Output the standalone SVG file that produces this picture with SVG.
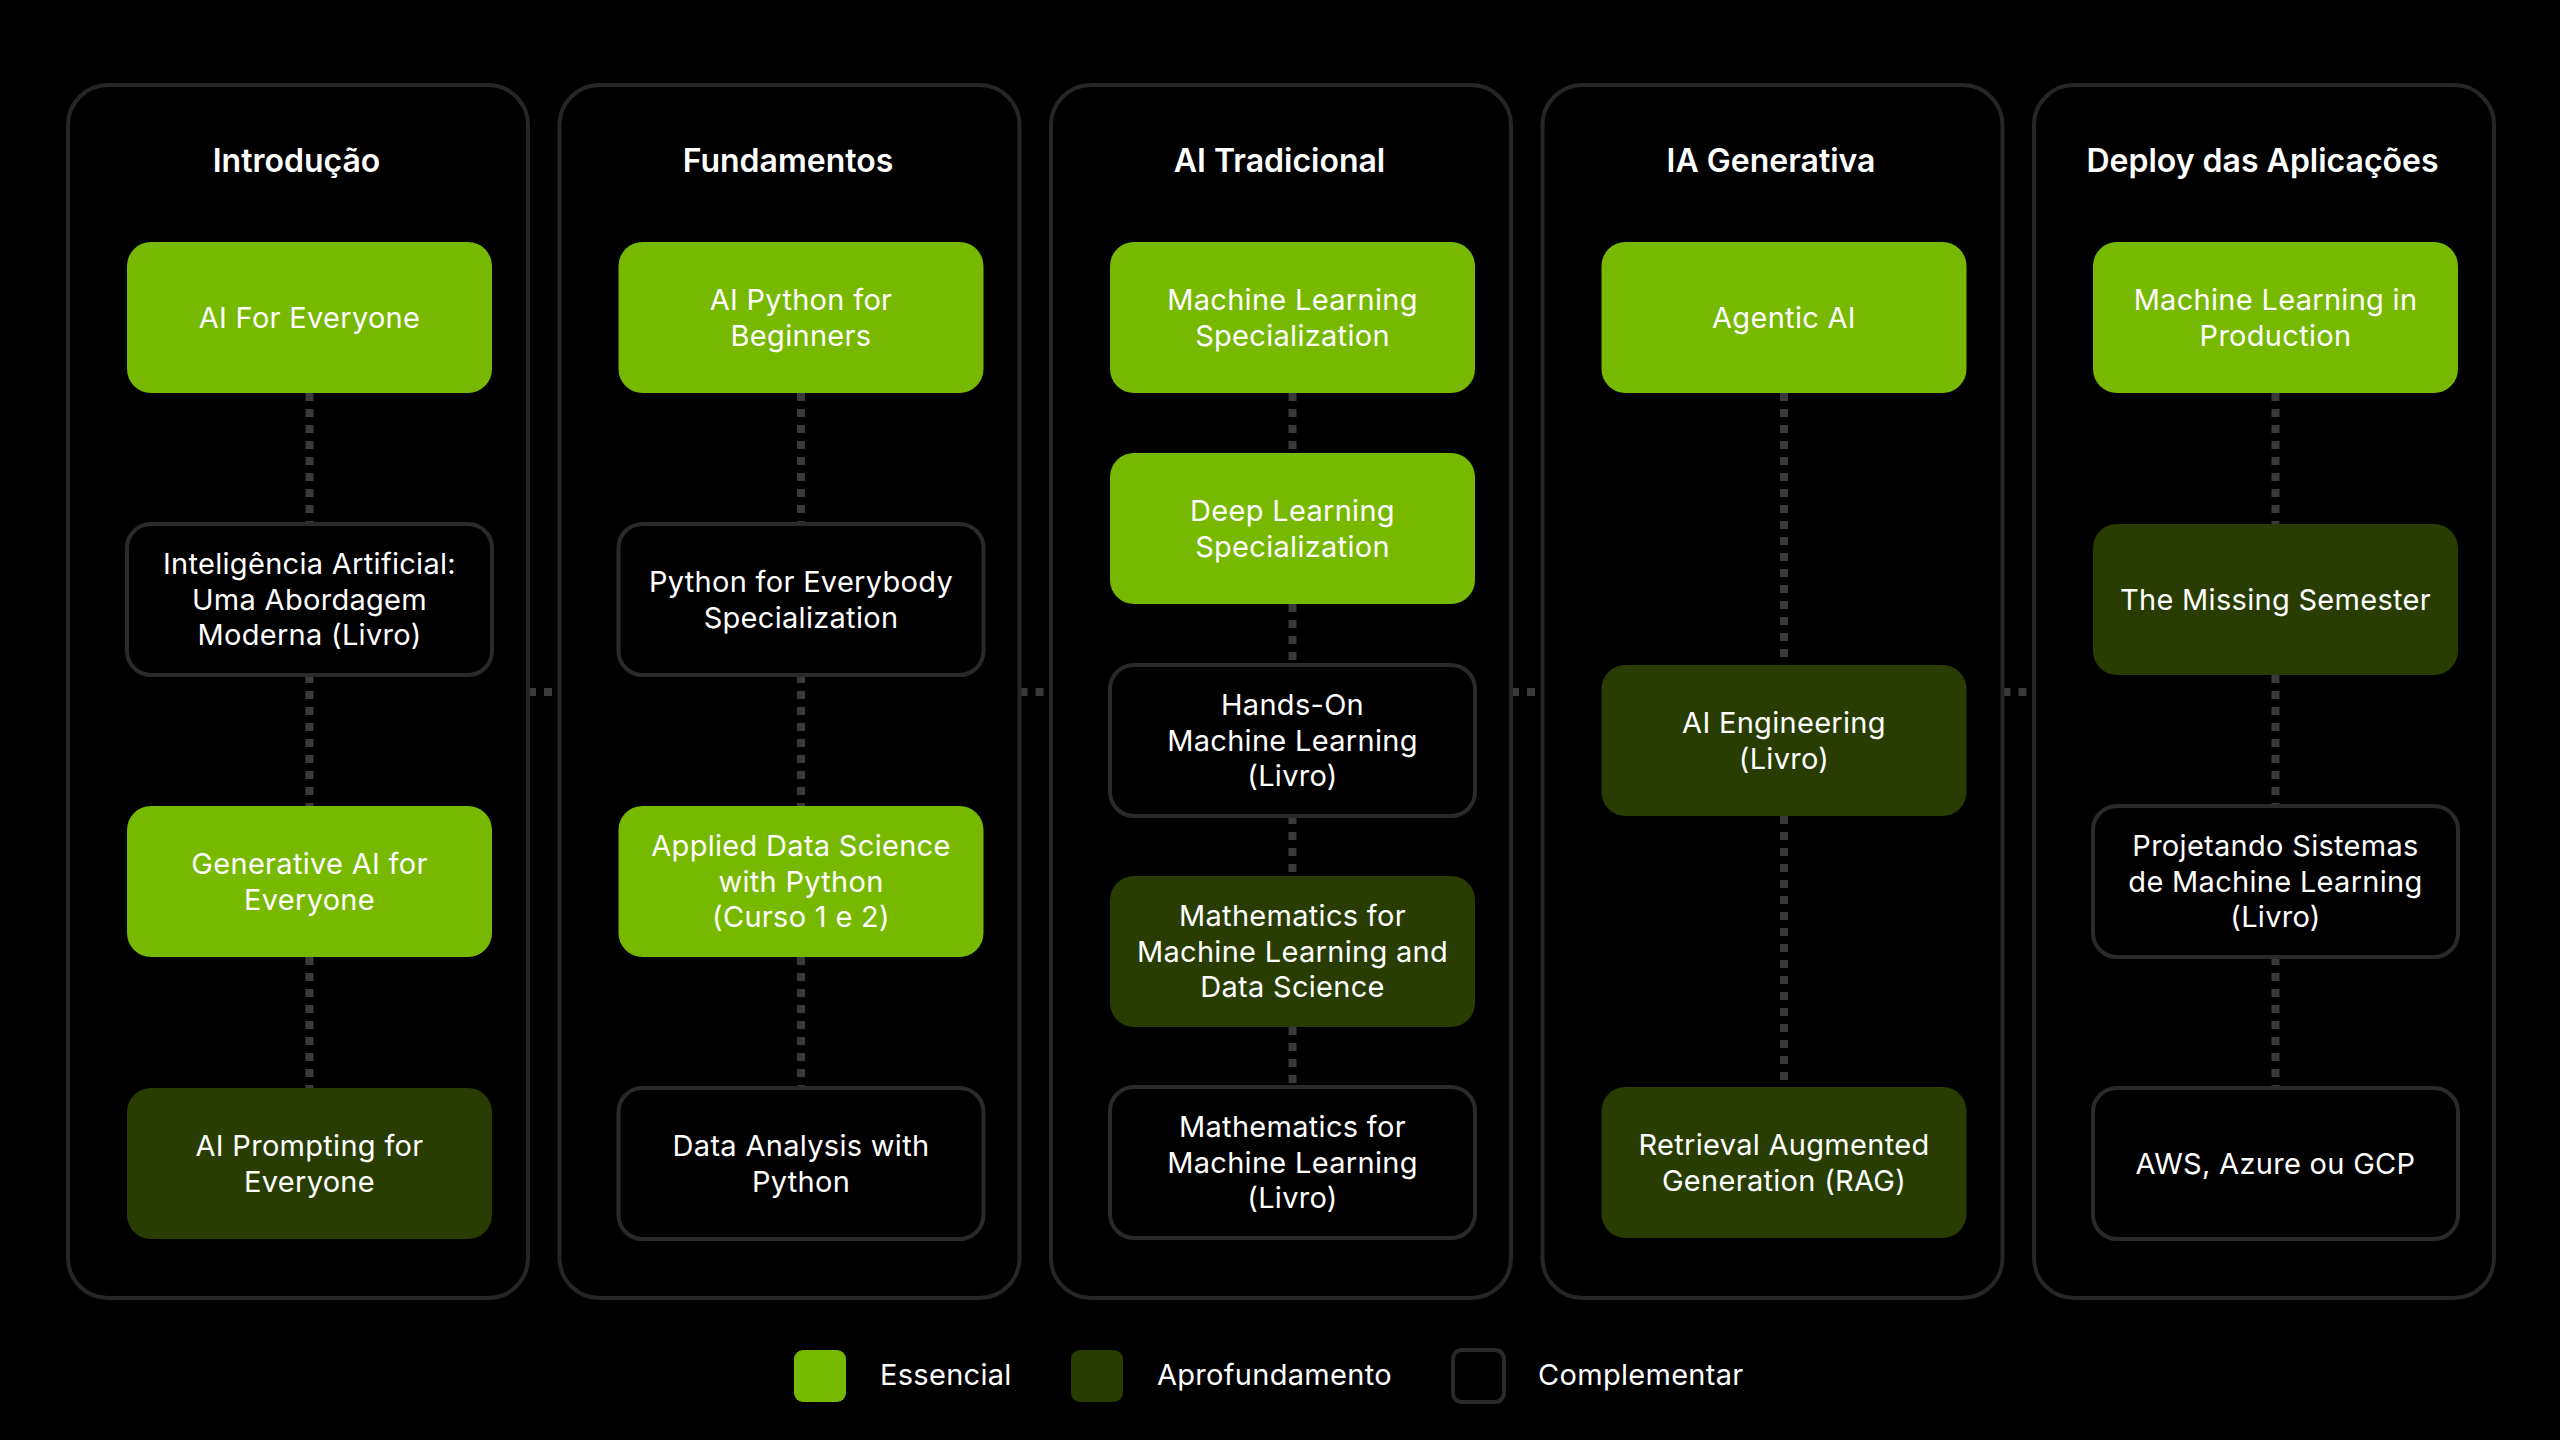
<svg xmlns="http://www.w3.org/2000/svg" width="2560" height="1440" viewBox="0 0 2560 1440">
<style>
.bg{fill:#000}
.col{fill:none;stroke:#262626;stroke-width:4}
.ess{fill:#76b900}
.apr{fill:#293d02}
.cmp{fill:#000;stroke:#2a2a2a;stroke-width:4}
.hdr{font-family:Inter,"Noto Sans","Liberation Sans",sans-serif;font-size:32px;font-weight:600;fill:#fff;text-anchor:middle}
.t{font-family:Inter,"Noto Sans","Liberation Sans",sans-serif;font-size:29px;letter-spacing:0.3px;font-weight:400;fill:#fff;text-anchor:middle}
.lg{font-family:Inter,"Noto Sans","Liberation Sans",sans-serif;font-size:29px;letter-spacing:0.3px;font-weight:400;fill:#fff}
.dot{stroke:#3a3a3a;stroke-width:8;stroke-dasharray:8 8;fill:none}
</style>
<rect class="bg" x="0" y="0" width="2560" height="1440"/>

<g id="connectors">
  <!-- between columns -->
  <line class="dot" x1="528" y1="692" x2="557.5" y2="692"/>
  <line class="dot" x1="1019.5" y1="692" x2="1049" y2="692"/>
  <line class="dot" x1="1511" y1="692" x2="1540.5" y2="692"/>
  <line class="dot" x1="2002.5" y1="692" x2="2032" y2="692"/>
  <!-- col 1 -->
  <line class="dot" x1="309.5" y1="393" x2="309.5" y2="524"/>
  <line class="dot" x1="309.5" y1="675" x2="309.5" y2="806"/>
  <line class="dot" x1="309.5" y1="957" x2="309.5" y2="1088"/>
  <!-- col 2 -->
  <line class="dot" x1="801" y1="393" x2="801" y2="524"/>
  <line class="dot" x1="801" y1="675" x2="801" y2="806"/>
  <line class="dot" x1="801" y1="957" x2="801" y2="1088"/>
  <!-- col 3 -->
  <line class="dot" x1="1292.5" y1="393" x2="1292.5" y2="453"/>
  <line class="dot" x1="1292.5" y1="604" x2="1292.5" y2="665"/>
  <line class="dot" x1="1292.5" y1="816" x2="1292.5" y2="876"/>
  <line class="dot" x1="1292.5" y1="1027" x2="1292.5" y2="1087"/>
  <!-- col 4 -->
  <line class="dot" x1="1784" y1="393" x2="1784" y2="665"/>
  <line class="dot" x1="1784" y1="816" x2="1784" y2="1087"/>
  <!-- col 5 -->
  <line class="dot" x1="2275.5" y1="393" x2="2275.5" y2="524"/>
  <line class="dot" x1="2275.5" y1="675" x2="2275.5" y2="806"/>
  <line class="dot" x1="2275.5" y1="957" x2="2275.5" y2="1088"/>
</g>

<g id="col-introducao">
  <rect class="col" x="68" y="85" width="460" height="1213" rx="40"/>
  <text class="hdr" x="296.5" y="172">Introdução</text>
</g>
<g id="col-fundamentos">
  <rect class="col" x="559.5" y="85" width="460" height="1213" rx="40"/>
  <text class="hdr" x="788" y="172">Fundamentos</text>
</g>
<g id="col-ai-tradicional">
  <rect class="col" x="1051" y="85" width="460" height="1213" rx="40"/>
  <text class="hdr" x="1279.5" y="172">AI Tradicional</text>
</g>
<g id="col-ia-generativa">
  <rect class="col" x="1542.5" y="85" width="460" height="1213" rx="40"/>
  <text class="hdr" x="1771" y="172">IA Generativa</text>
</g>
<g id="col-deploy">
  <rect class="col" x="2034" y="85" width="460" height="1213" rx="40"/>
  <text class="hdr" x="2262.5" y="172">Deploy das Aplicações</text>
</g>

<!-- Column 1 nodes -->
<g id="n-ai-for-everyone">
  <rect class="ess" x="127" y="242" width="365" height="151" rx="24"/>
  <text class="t" x="309.5" y="328">AI For Everyone</text>
</g>
<g id="n-ia-livro">
  <rect class="cmp" x="127" y="524" width="365" height="151" rx="24"/>
  <text class="t" x="309.5" y="574">Inteligência Artificial:</text>
  <text class="t" x="309.5" y="609.5">Uma Abordagem</text>
  <text class="t" x="309.5" y="645">Moderna (Livro)</text>
</g>
<g id="n-genai-everyone">
  <rect class="ess" x="127" y="806" width="365" height="151" rx="24"/>
  <text class="t" x="309.5" y="873.5">Generative AI for</text>
  <text class="t" x="309.5" y="909.5">Everyone</text>
</g>
<g id="n-ai-prompting">
  <rect class="apr" x="127" y="1088" width="365" height="151" rx="24"/>
  <text class="t" x="309.5" y="1155.5">AI Prompting for</text>
  <text class="t" x="309.5" y="1191.5">Everyone</text>
</g>

<!-- Column 2 nodes -->
<g id="n-ai-python">
  <rect class="ess" x="618.5" y="242" width="365" height="151" rx="24"/>
  <text class="t" x="801" y="310">AI Python for</text>
  <text class="t" x="801" y="345.5">Beginners</text>
</g>
<g id="n-py4e">
  <rect class="cmp" x="618.5" y="524" width="365" height="151" rx="24"/>
  <text class="t" x="801" y="591.5">Python for Everybody</text>
  <text class="t" x="801" y="627.5">Specialization</text>
</g>
<g id="n-applied-ds">
  <rect class="ess" x="618.5" y="806" width="365" height="151" rx="24"/>
  <text class="t" x="801" y="856">Applied Data Science</text>
  <text class="t" x="801" y="891.5">with Python</text>
  <text class="t" x="801" y="927">(Curso 1 e 2)</text>
</g>
<g id="n-data-analysis">
  <rect class="cmp" x="618.5" y="1088" width="365" height="151" rx="24"/>
  <text class="t" x="801" y="1155.5">Data Analysis with</text>
  <text class="t" x="801" y="1191.5">Python</text>
</g>

<!-- Column 3 nodes -->
<g id="n-ml-spec">
  <rect class="ess" x="1110" y="242" width="365" height="151" rx="24"/>
  <text class="t" x="1292.5" y="310">Machine Learning</text>
  <text class="t" x="1292.5" y="345.5">Specialization</text>
</g>
<g id="n-dl-spec">
  <rect class="ess" x="1110" y="453" width="365" height="151" rx="24"/>
  <text class="t" x="1292.5" y="521">Deep Learning</text>
  <text class="t" x="1292.5" y="556.5">Specialization</text>
</g>
<g id="n-hands-on">
  <rect class="cmp" x="1110" y="665" width="365" height="151" rx="24"/>
  <text class="t" x="1292.5" y="715">Hands-On</text>
  <text class="t" x="1292.5" y="750.5">Machine Learning</text>
  <text class="t" x="1292.5" y="786">(Livro)</text>
</g>
<g id="n-math-ml-ds">
  <rect class="apr" x="1110" y="876" width="365" height="151" rx="24"/>
  <text class="t" x="1292.5" y="926">Mathematics for</text>
  <text class="t" x="1292.5" y="961.5">Machine Learning and</text>
  <text class="t" x="1292.5" y="997">Data Science</text>
</g>
<g id="n-math-ml-livro">
  <rect class="cmp" x="1110" y="1087" width="365" height="151" rx="24"/>
  <text class="t" x="1292.5" y="1137">Mathematics for</text>
  <text class="t" x="1292.5" y="1172.5">Machine Learning</text>
  <text class="t" x="1292.5" y="1208">(Livro)</text>
</g>

<!-- Column 4 nodes -->
<g id="n-agentic-ai">
  <rect class="ess" x="1601.5" y="242" width="365" height="151" rx="24"/>
  <text class="t" x="1784" y="328">Agentic AI</text>
</g>
<g id="n-ai-engineering">
  <rect class="apr" x="1601.5" y="665" width="365" height="151" rx="24"/>
  <text class="t" x="1784" y="733">AI Engineering</text>
  <text class="t" x="1784" y="768.5">(Livro)</text>
</g>
<g id="n-rag">
  <rect class="apr" x="1601.5" y="1087" width="365" height="151" rx="24"/>
  <text class="t" x="1784" y="1155">Retrieval Augmented</text>
  <text class="t" x="1784" y="1190.5">Generation (RAG)</text>
</g>

<!-- Column 5 nodes -->
<g id="n-ml-production">
  <rect class="ess" x="2093" y="242" width="365" height="151" rx="24"/>
  <text class="t" x="2275.5" y="310">Machine Learning in</text>
  <text class="t" x="2275.5" y="345.5">Production</text>
</g>
<g id="n-missing-semester">
  <rect class="apr" x="2093" y="524" width="365" height="151" rx="24"/>
  <text class="t" x="2275.5" y="610">The Missing Semester</text>
</g>
<g id="n-projetando">
  <rect class="cmp" x="2093" y="806" width="365" height="151" rx="24"/>
  <text class="t" x="2275.5" y="856">Projetando Sistemas</text>
  <text class="t" x="2275.5" y="891.5">de Machine Learning</text>
  <text class="t" x="2275.5" y="927">(Livro)</text>
</g>
<g id="n-cloud">
  <rect class="cmp" x="2093" y="1088" width="365" height="151" rx="24"/>
  <text class="t" x="2275.5" y="1174">AWS, Azure ou GCP</text>
</g>

<!-- Legend -->
<g id="legend">
  <rect class="ess" x="794" y="1350" width="52" height="52" rx="9"/>
  <text class="lg" x="880" y="1385">Essencial</text>
  <rect class="apr" x="1071" y="1350" width="52" height="52" rx="9"/>
  <text class="lg" x="1157" y="1385">Aprofundamento</text>
  <rect class="cmp" x="1453" y="1350" width="51" height="52" rx="9"/>
  <text class="lg" x="1538" y="1385">Complementar</text>
</g>
</svg>
